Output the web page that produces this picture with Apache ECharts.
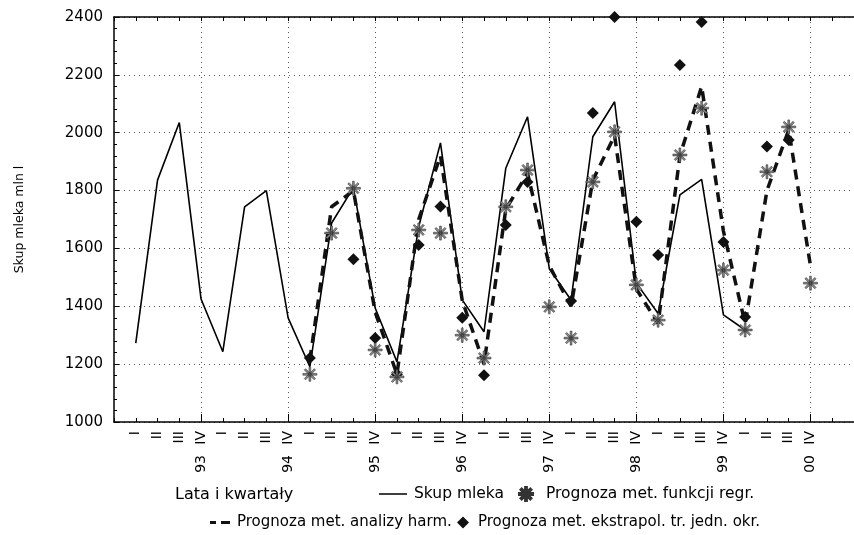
<!DOCTYPE html>
<html>
<head>
<meta charset="utf-8">
<script src="https://cdn.jsdelivr.net/npm/echarts@6/dist/echarts.min.js"></script>
<style>
  html, body { margin: 0; padding: 0; background: #fff; }
  #chart { width: 854px; height: 535px; }
</style>
</head>
<body>
<div id="chart"></div>
<script>
// kwartaly i lata
var quarters = ['I', 'II', 'III', 'IV'];
var years = ['93', '94', '95', '96', '97', '98', '99', '00'];

// 1993 I ... 2000 IV (32 kwartaly)
var skupMleka = [1273, 1836, 2035, 1425, 1243, 1744, 1800, 1360,
                 1191, 1688, 1810, 1394, 1208, 1675, 1965, 1422,
                 1312, 1877, 2055, 1530, 1422, 1986, 2107, 1480,
                 1375, 1785, 1839, 1370, 1318, null, null, null];
var progRegr = [null, null, null, null, null, null, null, null,
                1165, 1653, 1808, 1249, 1156, 1664, 1653, 1300,
                1221, 1744, 1871, 1398, 1290, 1830, 2003, 1474,
                1352, 1923, 2085, 1525, 1318, 1865, 2020, 1480];
var progHarm = [null, null, null, null, null, null, null, null,
                1215, 1744, 1800, 1380, 1165, 1700, 1920, 1420,
                1200, 1735, 1860, 1540, 1400, 1836, 1990, 1460,
                1340, 1920, 2160, 1660, 1340, 1800, 2010, 1540];
var progEkstr = [null, null, null, null, null, null, null, null,
                 1221, null, 1563, 1290, 1165, 1612, 1745, 1360,
                 1162, 1681, 1830, null, 1418, 2068, 2400, 1692,
                 1577, 2234, 2383, 1622, 1363, 1952, 1975, null];

// kategorie: jedna pusta z lewej, dwie z prawej
var cats = ['pre|'];
years.forEach(function (y) {
    quarters.forEach(function (q) { cats.push(y + '|' + q); });
});
cats.push('post1|', 'post2|');

function pad(arr) {
    return [null].concat(arr).concat([null, null]);
}
function isQ4(index, value) {
    return String(value).split('|')[1] === 'IV';
}

var chartDom = document.getElementById('chart');
var myChart = echarts.init(chartDom);
var option;
var font = 'DejaVu Sans';

var asterisk = 'path://M1,10.6H23V13.4H1Z M10.6,1H13.4V23H10.6Z M3.2,5.2L5.2,3.2L20.8,18.8L18.8,20.8Z M18.8,3.2L20.8,5.2L5.2,20.8L3.2,18.8Z';
// ikony legendy (male kropki w rogach trzymaja proporcje)
var solidIcon = 'path://M0,0h0.01v0.01h-0.01Z M0,6.3H28V7.7H0Z M27.99,13.99h0.01v0.01h-0.01Z';
var dashIcon = 'path://M0,0h0.01v0.01h-0.01Z M1,5.4H7V8.6H1Z M12,5.4H21V8.6H12Z M22.99,13.99h0.01v0.01h-0.01Z';

option = {
    animation: false,
    backgroundColor: '#fff',
    grid: {
        left: 114,
        right: -5,
        top: 17,
        bottom: 113
    },
    graphic: [{
        type: 'text',
        x: 175,
        y: 495,
        style: {
            text: 'Lata i kwartały',
            font: '16px "DejaVu Sans"',
            fill: '#000',
            verticalAlign: 'middle'
        }
    }],
    legend: [
        {
            data: [{ name: 'Skup mleka', icon: solidIcon }], left: 379, top: 486, padding: 0,
            itemWidth: 28, itemHeight: 14,
            textStyle: { fontFamily: font, fontSize: 15.5, color: '#000', padding: [0, 0, 0, 2] }
        },
        {
            data: ['Prognoza met. funkcji regr.'], left: 518, top: 486, padding: 0,
            itemWidth: 14, itemHeight: 14,
            textStyle: { fontFamily: font, fontSize: 15.5, color: '#000', padding: [0, 0, 0, 8] }
        },
        {
            data: [{ name: 'Prognoza met. analizy harm.', icon: dashIcon }], left: 209, top: 515, padding: 0,
            itemWidth: 23, itemHeight: 14,
            textStyle: { fontFamily: font, fontSize: 15, color: '#000' }
        },
        {
            data: ['Prognoza met. ekstrapol. tr. jedn. okr.'], left: 457, top: 515, padding: 0,
            itemWidth: 12, itemHeight: 12,
            textStyle: { fontFamily: font, fontSize: 15, color: '#000', padding: [0, 0, 0, 4] }
        }
    ],
    xAxis: [
        {
            type: 'category',
            data: cats,
            boundaryGap: false,
            axisLine: { lineStyle: { color: '#000', width: 1.5 } },
            axisTick: { inside: true, length: 4, interval: 0, lineStyle: { color: '#000' } },
            axisLabel: {
                interval: 0,
                rotate: 90,
                margin: 9,
                fontFamily: font,
                fontSize: 14,
                color: '#000',
                formatter: function (v) { return v.split('|')[1]; }
            },
            splitLine: { show: false }
        },
        {
            type: 'category',
            data: cats,
            boundaryGap: false,
            position: 'bottom',
            axisLine: { show: false },
            axisTick: { inside: true, length: 8, interval: isQ4, lineStyle: { color: '#000' } },
            axisLabel: {
                interval: 0,
                rotate: 90,
                margin: 33,
                fontFamily: font,
                fontSize: 14,
                color: '#000',
                formatter: function (v) {
                    var p = v.split('|');
                    return p[1] === 'IV' ? p[0] : '';
                }
            },
            splitLine: {
                show: true,
                interval: isQ4,
                lineStyle: { color: '#555', type: [1, 4], width: 1 }
            }
        },
        {
            type: 'category',
            data: cats,
            boundaryGap: false,
            position: 'top',
            axisLine: { lineStyle: { color: '#000', width: 1.5 } },
            axisTick: { inside: true, length: 4, interval: 0, lineStyle: { color: '#000' } },
            axisLabel: { show: false },
            splitLine: { show: false }
        }
    ],
    yAxis: {
        type: 'value',
        min: 1000,
        max: 2400,
        interval: 200,
        name: 'Skup mleka mln l',
        nameLocation: 'middle',
        nameGap: 88,
        nameTextStyle: { fontFamily: font, fontSize: 12.5, color: '#000' },
        axisLine: { show: true, lineStyle: { color: '#000', width: 1.5 } },
        axisTick: { show: true, inside: true, length: 5, lineStyle: { color: '#000' } },
        minorTick: { show: true, splitNumber: 5, length: 3, lineStyle: { color: '#000' } },
        axisLabel: {
            margin: 11, fontFamily: font, fontSize: 15, color: '#000',
            formatter: function (v) { return String(v); }
        },
        splitLine: { show: true, lineStyle: { color: '#555', type: [1, 4], width: 1 } }
    },
    series: [
        {
            name: 'Skup mleka',
            type: 'line',
            data: pad(skupMleka),
            symbol: 'none',
            lineStyle: { color: '#000', width: 1.6 },
            itemStyle: { color: '#000' },
            z: 3
        },
        {
            name: 'Prognoza met. analizy harm.',
            type: 'line',
            data: pad(progHarm),
            symbol: 'none',
            lineStyle: { color: '#111', width: 3.5, type: [10, 7] },
            itemStyle: { color: '#111' },
            z: 4
        },
        {
            name: 'Prognoza met. ekstrapol. tr. jedn. okr.',
            type: 'scatter',
            data: pad(progEkstr),
            symbol: 'diamond',
            symbolSize: 12,
            itemStyle: { color: '#111', opacity: 1 },
            clip: false,
            z: 5
        },
        {
            name: 'Prognoza met. funkcji regr.',
            type: 'scatter',
            data: pad(progRegr),
            symbol: asterisk,
            symbolSize: 14,
            itemStyle: { color: '#888', borderColor: '#333', borderWidth: 0.6, opacity: 1 },
            z: 6
        }
    ]
};

option && myChart.setOption(option);
</script>
</body>
</html>
